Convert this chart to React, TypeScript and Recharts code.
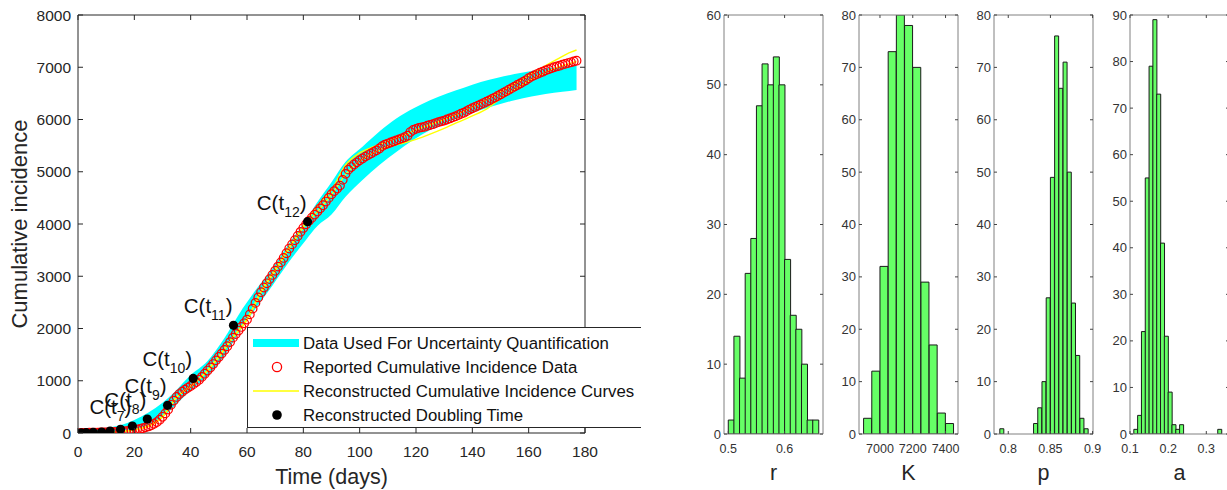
import React from 'react';
import {
  ComposedChart,
  BarChart,
  Bar,
  Area,
  Line,
  Scatter,
  XAxis,
  YAxis,
  Legend,
  Label,
} from 'recharts';

const FONT = '"Liberation Sans", Arial, Helvetica, sans-serif';
const AXIS = '#262626';
const HBOX = '#808080';
const HTICK = '#444444';
const HTEXT = '#333333';

// ---------------- Main panel data ----------------
const dayTicks = [0, 20, 40, 60, 80, 100, 120, 140, 160, 180];
const cumTicks = [0, 1000, 2000, 3000, 4000, 5000, 6000, 7000, 8000];

const reportedDays = Array.from({ length: 177 }, (_, i) => i + 1);
const reportedCumulative = [
  2, 3, 4, 5, 6, 7, 8, 10, 11, 13,
  15, 17, 19, 22, 26, 30, 35, 41, 48, 56,
  66, 78, 92, 108, 126, 148, 175, 210, 255, 310,
  375, 450, 540, 620, 690, 745, 790, 830, 865, 900,
  935, 975, 1020, 1075, 1135, 1195, 1255, 1320, 1390, 1455,
  1520, 1590, 1660, 1740, 1825, 1895, 1960, 2030, 2100, 2170,
  2270, 2380, 2490, 2595, 2695, 2785, 2865, 2945, 3025, 3105,
  3185, 3265, 3350, 3440, 3530, 3610, 3690, 3770, 3850, 3925,
  3995, 4060, 4120, 4180, 4240, 4300, 4360, 4430, 4500, 4570,
  4630, 4680, 4735, 4845, 4960, 5040, 5090, 5140, 5180, 5220,
  5255, 5290, 5320, 5350, 5380, 5410, 5445, 5490, 5520, 5540,
  5560, 5580, 5600, 5620, 5640, 5660, 5690, 5760, 5800, 5820,
  5840, 5850, 5860, 5880, 5895, 5910, 5930, 5950, 5965, 5980,
  6000, 6020, 6040, 6060, 6085, 6110, 6130, 6160, 6190, 6215,
  6240, 6265, 6290, 6315, 6340, 6365, 6395, 6420, 6450, 6480,
  6510, 6540, 6570, 6600, 6630, 6660, 6690, 6720, 6750, 6790,
  6820, 6845, 6870, 6895, 6915, 6940, 6960, 6980, 7000, 7015,
  7030, 7050, 7065, 7080, 7095, 7110, 7125,
];

const doublingDays = [1.1, 2.9, 5.4, 8.4, 11.4, 15.1, 19.3, 24.6, 31.8, 40.9, 55.2, 81.5];
const doublingValues = [3, 6, 12, 19, 38, 70, 134, 268, 530, 1045, 2060, 4044];
const doublingSubscripts = ['', '', '', '', '', '', '7', '8', '9', '10', '11', '12'];

const bandDays = [1, 5, 10, 15, 20, 25, 30, 34, 40, 46, 52, 57, 63, 69, 75, 81, 85, 90, 95, 101, 107, 113, 119, 125, 131, 137, 143, 149, 155, 161, 166, 172, 177];
const bandLower = [0, 0, 0, 10, 45, 130, 300, 500, 820, 1090, 1480, 1910, 2380, 2820, 3280, 3700, 3960, 4180, 4520, 4840, 5130, 5380, 5610, 5800, 5940, 6070, 6180, 6280, 6370, 6440, 6490, 6530, 6565];
const bandUpper = [70, 80, 100, 150, 250, 390, 580, 770, 1110, 1380, 1820, 2260, 2730, 3150, 3630, 4080, 4420, 4800, 5190, 5480, 5770, 6020, 6210, 6370, 6500, 6610, 6720, 6800, 6870, 6930, 6980, 7010, 7045];

const curveDays = [1, 5, 10, 15, 20, 25, 30, 35, 40, 45, 50, 55, 60, 65, 70, 75, 80, 85, 90, 95, 100, 105, 110, 115, 120, 125, 130, 135, 140, 145, 150, 155, 160, 165, 170, 175, 177];
const curveUpper = [2, 5, 12, 28, 62, 140, 320, 690, 900, 1150, 1470, 1840, 2190, 2720, 3130, 3560, 3960, 4350, 4650, 5130, 5360, 5480, 5580, 5680, 5800, 5900, 6000, 6110, 6240, 6380, 6530, 6680, 6840, 7000, 7150, 7290, 7330];
const curveLower = [2, 5, 12, 25, 55, 125, 300, 680, 890, 1130, 1450, 1820, 2160, 2690, 3100, 3530, 3930, 4240, 4560, 4950, 5200, 5360, 5480, 5540, 5620, 5720, 5830, 5950, 6070, 6200, 6400, 6570, 6740, 6880, 6990, 7080, 7110];

const legendLabels = [
  'Data Used For Uncertainty Quantification',
  'Reported Cumulative Incidence Data',
  'Reconstructed Cumulative Incidence Curves',
  'Reconstructed Doubling Time',
];

// ---------------- Histogram data ----------------
const rCenters = [0.505, 0.515, 0.525, 0.535, 0.545, 0.555, 0.565, 0.575, 0.585, 0.595, 0.605, 0.615, 0.625, 0.635, 0.645, 0.655];
const rCounts = [2, 14, 8, 23, 28, 47, 53, 50, 54, 50, 25, 17, 15, 10, 2, 2];
const rTicks = [0.5, 0.6];
const rCountTicks = [0, 10, 20, 30, 40, 50, 60];

const kCenters = [6925, 6975, 7025, 7075, 7125, 7175, 7225, 7275, 7325, 7375, 7425];
const kCounts = [3, 12, 32, 73, 80, 78, 70, 29, 17, 4, 2];
const kTicks = [7000, 7200, 7400];
const kCountTicks = [0, 10, 20, 30, 40, 50, 60, 70, 80];

const pCenters = [0.7925, 0.7975, 0.8025, 0.8075, 0.8125, 0.8175, 0.8225, 0.8275, 0.8325, 0.8375, 0.8425, 0.8475, 0.8525, 0.8575, 0.8625, 0.8675, 0.8725, 0.8775, 0.8825, 0.8875, 0.8925];
const pCounts = [1, 0, 0, 0, 0, 0, 0, 0, 2, 5, 10, 26, 49, 76, 66, 71, 50, 25, 15, 3, 1];
const pTicks = [0.8, 0.85, 0.9];
const pCountTicks = [0, 10, 20, 30, 40, 50, 60, 70, 80];

const aCenters = [0.115, 0.125, 0.135, 0.145, 0.155, 0.165, 0.175, 0.185, 0.195, 0.205, 0.215, 0.225, 0.235, 0.245, 0.255, 0.265, 0.275, 0.285, 0.295, 0.305, 0.315, 0.325, 0.335];
const aCounts = [1, 4, 22, 55, 79, 89, 73, 41, 21, 9, 2, 1, 2, 0, 0, 0, 0, 0, 0, 0, 0, 0, 1];
const aTicks = [0.1, 0.2, 0.3];
const aCountTicks = [0, 10, 20, 30, 40, 50, 60, 70, 80, 90];

// ---------------- helpers ----------------
type Side = 'bottom' | 'top' | 'left' | 'right';
type TickText = { size: number; gap: number; fill: string };

function makeTick(side: Side, len: number, color: string, text?: TickText) {
  return (props: any) => {
    const x = Number(props.x);
    const y = Number(props.y);
    const v = props.payload ? props.payload.value : '';
    let x2 = x;
    let y2 = y;
    if (side === 'bottom') y2 = y - len;
    if (side === 'top') y2 = y + len;
    if (side === 'left') x2 = x + len;
    if (side === 'right') x2 = x - len;
    let t: any = null;
    if (text && side === 'bottom') {
      t = (
        <text x={x} y={y + text.gap} textAnchor="middle" fontSize={text.size} fontFamily={FONT} fill={text.fill}>
          {String(v)}
        </text>
      );
    }
    if (text && side === 'left') {
      t = (
        <text x={x - text.gap} y={y} textAnchor="end" dominantBaseline="central" fontSize={text.size} fontFamily={FONT} fill={text.fill}>
          {String(v)}
        </text>
      );
    }
    return (
      <g>
        <line x1={x} y1={y} x2={x2} y2={y2} stroke={color} strokeWidth={1} />
        {t}
      </g>
    );
  };
}

const reportedData = reportedDays.map((d, i) => ({ day: d, cum: reportedCumulative[i] }));
const doublingData = doublingDays.map((d, i) => ({ day: d, cum: doublingValues[i], sub: doublingSubscripts[i] }));
const bandData = bandDays.map((d, i) => ({ day: d, band: [bandLower[i], bandUpper[i]] }));
const upperCurveData = curveDays.map((d, i) => ({ day: d, cum: curveUpper[i] }));
const lowerCurveData = curveDays.map((d, i) => ({ day: d, cum: curveLower[i] }));

const renderLegend = () => (
  <svg width={394} height={101} style={{ display: 'block', overflow: 'hidden' }}>
    <rect x={0.5} y={0.5} width={400} height={100} fill="#ffffff" stroke={AXIS} strokeWidth={1} />
    <line x1={6} x2={52} y1={16} y2={16} stroke="#00ffff" strokeWidth={8} />
    <circle cx={30} cy={40} r={4.6} fill="none" stroke="#ff0000" strokeWidth={1.3} />
    <line x1={6} x2={52} y1={64} y2={64} stroke="#ffff00" strokeWidth={1.6} />
    <circle cx={30} cy={88} r={4.8} fill="#000000" />
    {legendLabels.map((t, i) => (
      <text key={t} x={56} y={16 + 24 * i} dominantBaseline="central" fontSize={16.8} fontFamily={FONT} fill="#111">
        {t}
      </text>
    ))}
  </svg>
);

const redCircle = (p: any) => (
  <circle cx={p.cx} cy={p.cy} r={4.3} fill="none" stroke="#ff0000" strokeWidth={1.2} />
);

const blackDot = (p: any) => {
  const sub = p.payload ? p.payload.sub : '';
  return (
    <g>
      <circle cx={p.cx} cy={p.cy} r={4.6} fill="#000000" />
      {sub ? (
        <text x={p.cx - 1} y={p.cy - 12} textAnchor="end" fontSize={20.5} fontFamily={FONT} fill="#111">
          C(t
          <tspan fontSize={14} dy={7}>
            {sub}
          </tspan>
          <tspan dy={-7}>)</tspan>
        </text>
      ) : null}
    </g>
  );
};

function MainChart() {
  return (
    <ComposedChart width={660} height={490} margin={{ top: 14, right: 74, bottom: 0, left: 0 }}>
      <XAxis
        xAxisId="b"
        dataKey="day"
        type="number"
        domain={[0, 180]}
        ticks={dayTicks}
        interval={0}
        allowDataOverflow
        height={57}
        tickSize={0}
        tickMargin={0}
        tickLine={false}
        axisLine={{ stroke: AXIS }}
        tick={makeTick('bottom', 5, AXIS, { size: 15.5, gap: 24, fill: AXIS })}
      >
        <Label
          content={(p: any) => (
            <text x={p.viewBox.x + p.viewBox.width / 2} y={p.viewBox.y + 51} textAnchor="middle" fontSize={21.5} fontFamily={FONT} fill={AXIS}>
              Time (days)
            </text>
          )}
        />
      </XAxis>
      <XAxis
        xAxisId="t"
        orientation="top"
        dataKey="day"
        type="number"
        domain={[0, 180]}
        ticks={dayTicks}
        interval={0}
        allowDataOverflow
        height={1}
        tickSize={0}
        tickMargin={0}
        tickLine={false}
        axisLine={{ stroke: AXIS }}
        tick={makeTick('top', 5, AXIS)}
      />
      <YAxis
        yAxisId="l"
        type="number"
        domain={[0, 8000]}
        ticks={cumTicks}
        interval={0}
        allowDataOverflow
        width={78}
        tickSize={0}
        tickMargin={0}
        tickLine={false}
        axisLine={{ stroke: AXIS }}
        tick={makeTick('left', 5, AXIS, { size: 15.5, gap: 7, fill: AXIS })}
      >
        <Label
          content={(p: any) => {
            const cx = p.viewBox.x + 19;
            const cy = p.viewBox.y + p.viewBox.height / 2;
            return (
              <text x={cx} y={cy} transform={`rotate(-90, ${cx}, ${cy})`} textAnchor="middle" dominantBaseline="central" fontSize={22} fontFamily={FONT} fill={AXIS}>
                Cumulative incidence
              </text>
            );
          }}
        />
      </YAxis>
      <YAxis
        yAxisId="r"
        orientation="right"
        type="number"
        domain={[0, 8000]}
        ticks={cumTicks}
        interval={0}
        allowDataOverflow
        width={1}
        tickSize={0}
        tickMargin={0}
        tickLine={false}
        axisLine={{ stroke: AXIS }}
        tick={makeTick('right', 5, AXIS)}
      />
      <Area
        xAxisId="t"
        yAxisId="r"
        data={bandData}
        dataKey="band"
        type="monotone"
        stroke="none"
        fill="#00ffff"
        fillOpacity={1}
        isAnimationActive={false}
        activeDot={false}
      />
      <Line
        xAxisId="b"
        yAxisId="l"
        data={upperCurveData}
        dataKey="cum"
        type="monotone"
        stroke="#ffff00"
        strokeWidth={1.4}
        dot={false}
        activeDot={false}
        isAnimationActive={false}
      />
      <Line
        xAxisId="b"
        yAxisId="l"
        data={lowerCurveData}
        dataKey="cum"
        type="monotone"
        stroke="#ffff00"
        strokeWidth={1.4}
        dot={false}
        activeDot={false}
        isAnimationActive={false}
      />
      <Scatter xAxisId="b" yAxisId="l" data={reportedData} dataKey="cum" shape={redCircle} isAnimationActive={false} />
      <Scatter xAxisId="b" yAxisId="l" data={doublingData} dataKey="cum" shape={blackDot} isAnimationActive={false} />
      <Legend
        layout="vertical"
        align="center"
        verticalAlign="middle"
        wrapperStyle={{ left: 247, top: 327, width: 394, height: 101 }}
        content={renderLegend}
      />
    </ComposedChart>
  );
}

type HistProps = {
  plotLeft: number;
  centers: number[];
  counts: number[];
  domain: [number, number];
  xTicks: number[];
  yTicks: number[];
  symbol: string;
};

function Histogram({ plotLeft, centers, counts, domain, xTicks, yTicks, symbol }: HistProps) {
  const data = centers.map((c, i) => ({ x: c, n: counts[i] }));
  const yW = 40;
  const yMax = yTicks[yTicks.length - 1];
  return (
    <div style={{ position: 'absolute', left: plotLeft - yW, top: 0 }}>
      <BarChart
        width={yW + 99 + 1 + 14}
        height={490}
        data={data}
        margin={{ top: 14, right: 14, bottom: 0, left: 0 }}
        barCategoryGap={0}
        barGap={0}
      >
        <XAxis
          xAxisId="b"
          dataKey="x"
          type="number"
          domain={domain}
          ticks={xTicks}
          interval={0}
          allowDataOverflow
          height={56}
          tickSize={0}
          tickMargin={0}
          tickLine={false}
          axisLine={{ stroke: HBOX }}
          tick={makeTick('bottom', 3, HTICK, { size: 12.5, gap: 19, fill: HTEXT })}
        >
          <Label
            content={(p: any) => (
              <text x={p.viewBox.x + p.viewBox.width / 2} y={p.viewBox.y + 46} textAnchor="middle" fontSize={21.5} fontFamily={FONT} fill={AXIS}>
                {symbol}
              </text>
            )}
          />
        </XAxis>
        <XAxis
          xAxisId="t"
          orientation="top"
          dataKey="x"
          type="number"
          domain={domain}
          ticks={xTicks}
          interval={0}
          allowDataOverflow
          height={1}
          tickSize={0}
          tickMargin={0}
          tickLine={false}
          axisLine={{ stroke: HBOX }}
          tick={makeTick('top', 3, HTICK)}
        />
        <YAxis
          yAxisId="l"
          type="number"
          domain={[0, yMax]}
          ticks={yTicks}
          interval={0}
          allowDataOverflow
          width={yW}
          tickSize={0}
          tickMargin={0}
          tickLine={false}
          axisLine={{ stroke: HBOX }}
          tick={makeTick('left', 3, HTICK, { size: 13, gap: 3, fill: HTEXT })}
        />
        <YAxis
          yAxisId="r"
          orientation="right"
          type="number"
          domain={[0, yMax]}
          ticks={yTicks}
          interval={0}
          allowDataOverflow
          width={1}
          tickSize={0}
          tickMargin={0}
          tickLine={false}
          axisLine={{ stroke: HBOX }}
          tick={makeTick('right', 3, HTICK)}
        />
        <Bar xAxisId="b" yAxisId="l" dataKey="n" fill="#66ff66" stroke="#1a1a1a" strokeWidth={1} isAnimationActive={false} />
      </BarChart>
    </div>
  );
}

export default function App() {
  return (
    <div style={{ position: 'absolute', left: 0, top: 0, width: 1227, height: 490, overflow: 'hidden', background: '#ffffff' }}>
      <div style={{ position: 'absolute', left: 0, top: 0 }}>
        <MainChart />
      </div>
      <Histogram plotLeft={724} centers={rCenters} counts={rCounts} domain={[0.4924, 0.6682]} xTicks={rTicks} yTicks={rCountTicks} symbol="r" />
      <Histogram plotLeft={859} centers={kCenters} counts={kCounts} domain={[6872, 7476]} xTicks={kTicks} yTicks={kCountTicks} symbol="K" />
      <Histogram plotLeft={994} centers={pCenters} counts={pCounts} domain={[0.7831, 0.9005]} xTicks={pTicks} yTicks={pCountTicks} symbol="p" />
      <Histogram plotLeft={1130} centers={aCenters} counts={aCounts} domain={[0.1, 0.3595]} xTicks={aTicks} yTicks={aCountTicks} symbol="a" />
    </div>
  );
}
